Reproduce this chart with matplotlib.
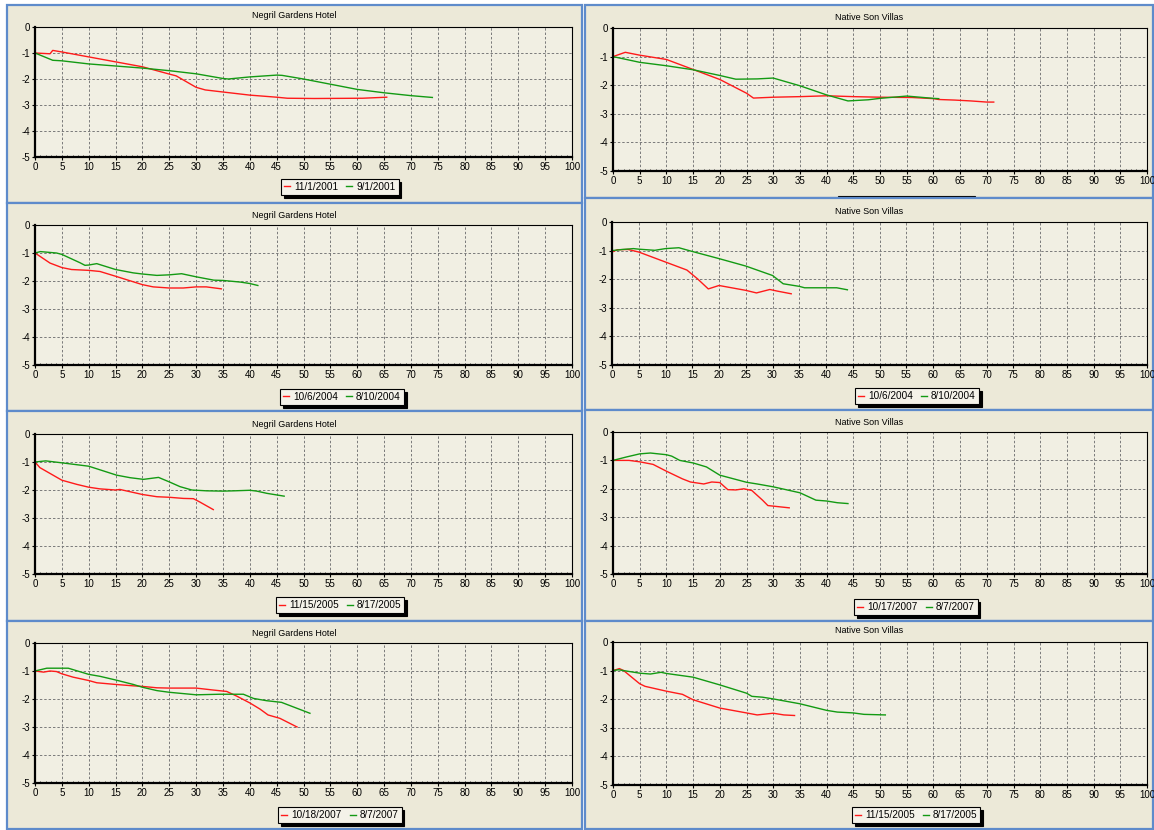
import matplotlib
matplotlib.use('Agg')
import matplotlib.pyplot as plt
from matplotlib.patches import Rectangle
from matplotlib.lines import Line2D
from matplotlib.ticker import MultipleLocator

plt.rcParams['font.family'] = ['Liberation Sans', 'DejaVu Sans']
plt.rcParams['axes.unicode_minus'] = False

# ─────────────────────────────────────────────────────────────
# Data
# ─────────────────────────────────────────────────────────────
NG_TITLE = "Negril Gardens Hotel"
NS_TITLE = "Native Son Villas"

x_ticks = list(range(0, 101, 5))
y_ticks = [0, -1, -2, -3, -4, -5]

# Negril Gardens Hotel, 2001
ng1_labels = ["11/1/2001", "9/1/2001"]
ng1_red_x = [0, 2.8, 3.3, 5, 10, 15, 20, 25, 26.3, 30, 31.7, 35, 40, 45, 47, 52, 61, 65.5]
ng1_red_y = [-1, -1.03, -0.9, -0.96, -1.15, -1.34, -1.53, -1.81, -1.88, -2.32, -2.42, -2.5, -2.62, -2.7, -2.74, -2.75, -2.74, -2.7]
ng1_green_x = [0, 3.3, 5, 10, 15, 20, 25, 30, 35, 36, 40, 45, 46, 50, 55, 60, 65, 70, 74]
ng1_green_y = [-1, -1.28, -1.3, -1.42, -1.5, -1.58, -1.68, -1.8, -1.98, -2.0, -1.92, -1.85, -1.86, -2.0, -2.2, -2.4, -2.53, -2.64, -2.71]

# Negril Gardens Hotel, 2004
ng2_labels = ["10/6/2004", "8/10/2004"]
ng2_red_x = [0, 2.8, 5, 6.8, 10, 12.1, 15, 20, 22, 25, 27.6, 30, 31.9, 34.7]
ng2_red_y = [-1, -1.36, -1.52, -1.59, -1.62, -1.66, -1.83, -2.13, -2.21, -2.25, -2.25, -2.21, -2.21, -2.28]
ng2_green_x = [0, 1, 4, 5, 8.4, 9.3, 10, 11.5, 15, 18.3, 20, 22.7, 25, 27.3, 30, 33.3, 35, 38.3, 40, 41.5]
ng2_green_y = [-1, -0.95, -1.0, -1.05, -1.35, -1.44, -1.43, -1.38, -1.59, -1.71, -1.75, -1.8, -1.78, -1.74, -1.85, -1.97, -1.98, -2.04, -2.09, -2.16]

# Negril Gardens Hotel, 2005
ng3_labels = ["11/15/2005", "8/17/2005"]
ng3_red_x = [0, 0.9, 5, 7.8, 10, 12.1, 15, 15.8, 20, 22.7, 25, 27.6, 29.5, 30.7, 33.2]
ng3_red_y = [-1, -1.2, -1.65, -1.8, -1.9, -1.96, -2.0, -1.98, -2.16, -2.24, -2.26, -2.3, -2.31, -2.43, -2.7]
ng3_green_x = [0, 2, 5, 10, 15.2, 17.7, 20.2, 21, 23, 25, 27, 29.2, 32, 35, 37, 40, 41.3, 43.2, 46.4]
ng3_green_y = [-1, -0.96, -1.03, -1.15, -1.47, -1.56, -1.62, -1.6, -1.55, -1.71, -1.88, -2.0, -2.03, -2.04, -2.03, -2.01, -2.04, -2.12, -2.22]

# Negril Gardens Hotel, 2007
ng4_labels = ["10/18/2007", "8/7/2007"]
ng4_red_x = [0, 1.6, 2.8, 4, 5, 7.1, 10, 11.5, 15, 18.3, 20, 22.7, 25, 30, 33.2, 35.7, 37.6, 40, 41.9, 43.4, 45.6, 48.8]
ng4_red_y = [-1, -1.04, -1.0, -1.02, -1.1, -1.22, -1.34, -1.42, -1.48, -1.53, -1.55, -1.6, -1.61, -1.61, -1.68, -1.73, -1.9, -2.14, -2.36, -2.57, -2.69, -3.0]
ng4_green_x = [0, 2.2, 6.2, 10, 12.1, 15, 18.3, 20, 22.7, 25, 30, 34.4, 38.8, 40.7, 43.1, 45.9, 51.2]
ng4_green_y = [-1, -0.9, -0.9, -1.12, -1.19, -1.32, -1.48, -1.58, -1.7, -1.76, -1.85, -1.83, -1.83, -1.98, -2.06, -2.12, -2.51]

# Native Son Villas, 2001 (legend hidden under the next panel)
ns1_labels = ["11/1/2001", "9/1/2001"]
ns1_red_x = [0, 2.3, 5, 10, 15, 20, 25, 26.3, 30, 35, 40, 45, 50, 56, 60, 61, 64, 67, 70, 71.3]
ns1_red_y = [-1, -0.85, -0.95, -1.1, -1.45, -1.8, -2.28, -2.45, -2.42, -2.4, -2.37, -2.4, -2.42, -2.43, -2.47, -2.5, -2.52, -2.55, -2.59, -2.59]
ns1_green_x = [0, 5, 10, 15, 20, 23, 27, 30, 35, 40, 44, 47.8, 50, 52.5, 55, 60, 61]
ns1_green_y = [-1, -1.2, -1.32, -1.46, -1.66, -1.79, -1.78, -1.75, -2.02, -2.34, -2.55, -2.51, -2.46, -2.42, -2.38, -2.46, -2.47]

# Native Son Villas, 2004
ns2_labels = ["10/6/2004", "8/10/2004"]
ns2_red_x = [0, 1, 3, 5, 10, 14, 16, 18, 20, 25, 27, 29.5, 31, 33.5]
ns2_red_y = [-1.05, -0.97, -0.96, -1.05, -1.4, -1.68, -1.99, -2.34, -2.22, -2.39, -2.48, -2.36, -2.42, -2.51]
ns2_green_x = [0, 2, 4, 5, 8, 10, 12.5, 15, 20, 25, 30, 32, 35, 36, 42, 44]
ns2_green_y = [-1.0, -0.96, -0.93, -0.95, -0.99, -0.93, -0.9, -1.03, -1.28, -1.54, -1.87, -2.16, -2.25, -2.3, -2.3, -2.37]

# Native Son Villas, 2007
ns3_labels = ["10/17/2007", "8/7/2007"]
ns3_red_x = [0, 3, 5, 7.5, 10, 13, 14.5, 17, 18.5, 20, 21.5, 23, 24.5, 26, 28, 29, 31, 33]
ns3_red_y = [-1, -1.0, -1.05, -1.14, -1.38, -1.65, -1.76, -1.83, -1.76, -1.78, -2.03, -2.04, -2.0, -2.06, -2.4, -2.59, -2.63, -2.67]
ns3_green_x = [0, 2.5, 5, 7, 10, 11, 12.5, 15, 17.5, 20, 25, 27, 30, 35, 38, 40, 42, 44]
ns3_green_y = [-1, -0.88, -0.77, -0.74, -0.8, -0.85, -1.0, -1.09, -1.23, -1.52, -1.77, -1.83, -1.93, -2.14, -2.4, -2.43, -2.49, -2.52]

# Native Son Villas, 2005
ns4_labels = ["11/15/2005", "8/17/2005"]
ns4_red_x = [0, 1.2, 2, 5, 6, 10, 13, 15, 20, 25, 27, 30, 32, 34]
ns4_red_y = [-1, -0.93, -1.0, -1.46, -1.55, -1.72, -1.83, -2.02, -2.31, -2.48, -2.55, -2.49, -2.55, -2.57]
ns4_green_x = [0, 1, 5, 7, 9, 10, 15, 20, 25, 26, 28, 30, 35, 40, 42, 45, 47, 51]
ns4_green_y = [-1, -0.97, -1.09, -1.12, -1.06, -1.1, -1.23, -1.5, -1.79, -1.9, -1.93, -1.99, -2.16, -2.39, -2.45, -2.48, -2.53, -2.55]

# ─────────────────────────────────────────────────────────────
# Layout (pixels, y from top)
# ─────────────────────────────────────────────────────────────
W, H = 1154, 830
PANEL_BG = '#ECE9D8'
PLOT_BG = '#F1EFE3'
LEGEND_BG = '#F4F2E9'
BORDER = '#5E8BCB'
RED = '#FF1A1A'
GREEN = '#139A13'

left_col = [
    dict(frame=(7, 5, 582, 203), axes=(35, 27, 572, 157), title_y=16, leg=(340, 187),
         title=NG_TITLE, labels=ng1_labels, red=(ng1_red_x, ng1_red_y), green=(ng1_green_x, ng1_green_y)),
    dict(frame=(7, 203, 582, 411), axes=(35, 225, 572, 365), title_y=215, leg=(342, 397),
         title=NG_TITLE, labels=ng2_labels, red=(ng2_red_x, ng2_red_y), green=(ng2_green_x, ng2_green_y)),
    dict(frame=(7, 411, 582, 621), axes=(35, 434, 572, 574), title_y=424, leg=(340, 605),
         title=NG_TITLE, labels=ng3_labels, red=(ng3_red_x, ng3_red_y), green=(ng3_green_x, ng3_green_y)),
    dict(frame=(7, 621, 582, 829), axes=(35, 643, 572, 783), title_y=633, leg=(340, 815),
         title=NG_TITLE, labels=ng4_labels, red=(ng4_red_x, ng4_red_y), green=(ng4_green_x, ng4_green_y)),
]
right_col = [
    # legend of this one sits under the next panel, only its top edge shows
    dict(frame=(585, 5, 1153, 198), axes=(613, 28, 1147, 171), title_y=17, leg_box=(838, 196, 975, 210),
         title=NS_TITLE, labels=ns1_labels, red=(ns1_red_x, ns1_red_y), green=(ns1_green_x, ns1_green_y)),
    dict(frame=(585, 198, 1153, 410), axes=(612, 222, 1147, 365), title_y=211, leg=(917, 396),
         title=NS_TITLE, labels=ns2_labels, red=(ns2_red_x, ns2_red_y), green=(ns2_green_x, ns2_green_y)),
    dict(frame=(585, 410, 1153, 621), axes=(613, 432, 1147, 574), title_y=422, leg=(916, 607),
         title=NS_TITLE, labels=ns3_labels, red=(ns3_red_x, ns3_red_y), green=(ns3_green_x, ns3_green_y)),
    dict(frame=(585, 621, 1153, 829), axes=(613, 642, 1147, 785), title_y=630, leg=(916, 815),
         title=NS_TITLE, labels=ns4_labels, red=(ns4_red_x, ns4_red_y), green=(ns4_green_x, ns4_green_y)),
]


def fbox(x0, y0, x1, y1):
    return [x0 / W, 1 - y1 / H, (x1 - x0) / W, (y1 - y0) / H]


def draw_panel(fig, p, z):
    x0, y0, x1, y1 = p['frame']
    l, b, w, h = fbox(x0, y0, x1, y1)
    fig.add_artist(Rectangle((l, b), w, h, transform=fig.transFigure,
                             facecolor=PANEL_BG, edgecolor=BORDER, linewidth=1.6, zorder=z))
    fig.text((x0 + x1) / 2 / W, 1 - p['title_y'] / H, p['title'], ha='center', va='center',
             fontsize=6.5, color='black', zorder=z + 1)

    ax = fig.add_axes(fbox(*p['axes']))
    ax.set_zorder(z + 1)
    ax.set_facecolor(PLOT_BG)
    ax.plot(p['red'][0], p['red'][1], color=RED, linewidth=1.0)
    ax.plot(p['green'][0], p['green'][1], color=GREEN, linewidth=1.0)

    ax.set_xlim(0, 100)
    ax.set_ylim(-5, 0)
    ax.set_xticks(x_ticks)
    ax.set_xticklabels([str(v) for v in x_ticks])
    ax.set_yticks(y_ticks)
    ax.set_yticklabels([str(v) for v in y_ticks])
    ax.xaxis.set_minor_locator(MultipleLocator(1))
    ax.tick_params(which='major', direction='out', length=2, width=0.8, labelsize=7, pad=1.5)
    ax.tick_params(which='minor', axis='x', direction='in', length=1.5, width=0.5)
    ax.grid(True, which='major', color='#7A7A7A', linestyle=(0, (2.5, 2)), linewidth=0.7)
    ax.set_axisbelow(True)
    for side in ['left', 'bottom']:
        ax.spines[side].set_linewidth(1.6)
    for side in ['top', 'right']:
        ax.spines[side].set_linewidth(0.8)

    if 'leg_box' in p:
        # legend box cut off by the panel below: just the frame and its shadow
        bl, bb, bw, bh = fbox(*p['leg_box'])
        fig.add_artist(Rectangle((bl + 3 / W, bb - 3 / H), bw, bh, transform=fig.transFigure,
                                 facecolor='black', edgecolor='none', zorder=z + 1))
        fig.add_artist(Rectangle((bl, bb), bw, bh, transform=fig.transFigure,
                                 facecolor=LEGEND_BG, edgecolor='black', linewidth=0.8, zorder=z + 1))
        return ax

    handles = [Line2D([], [], color=RED, linewidth=1.0), Line2D([], [], color=GREEN, linewidth=1.0)]
    leg = ax.legend(handles, p['labels'], loc='center',
                    bbox_to_anchor=(p['leg'][0] / W, 1 - p['leg'][1] / H),
                    bbox_transform=fig.transFigure, ncol=2, fontsize=7.2,
                    fancybox=False, framealpha=1, facecolor=LEGEND_BG, edgecolor='black',
                    shadow={'color': 'black', 'alpha': 1},
                    handlelength=0.6, handletextpad=0.4, columnspacing=0.8,
                    borderpad=0.3, borderaxespad=0)
    leg.get_frame().set_linewidth(0.8)
    return ax


fig = plt.figure(figsize=(W / 100, H / 100), dpi=100, facecolor='white')

for col in (left_col, right_col):
    for i, p in enumerate(col):
        draw_panel(fig, p, 3 * i)

fig.savefig('out.png', dpi=100, facecolor='white')
